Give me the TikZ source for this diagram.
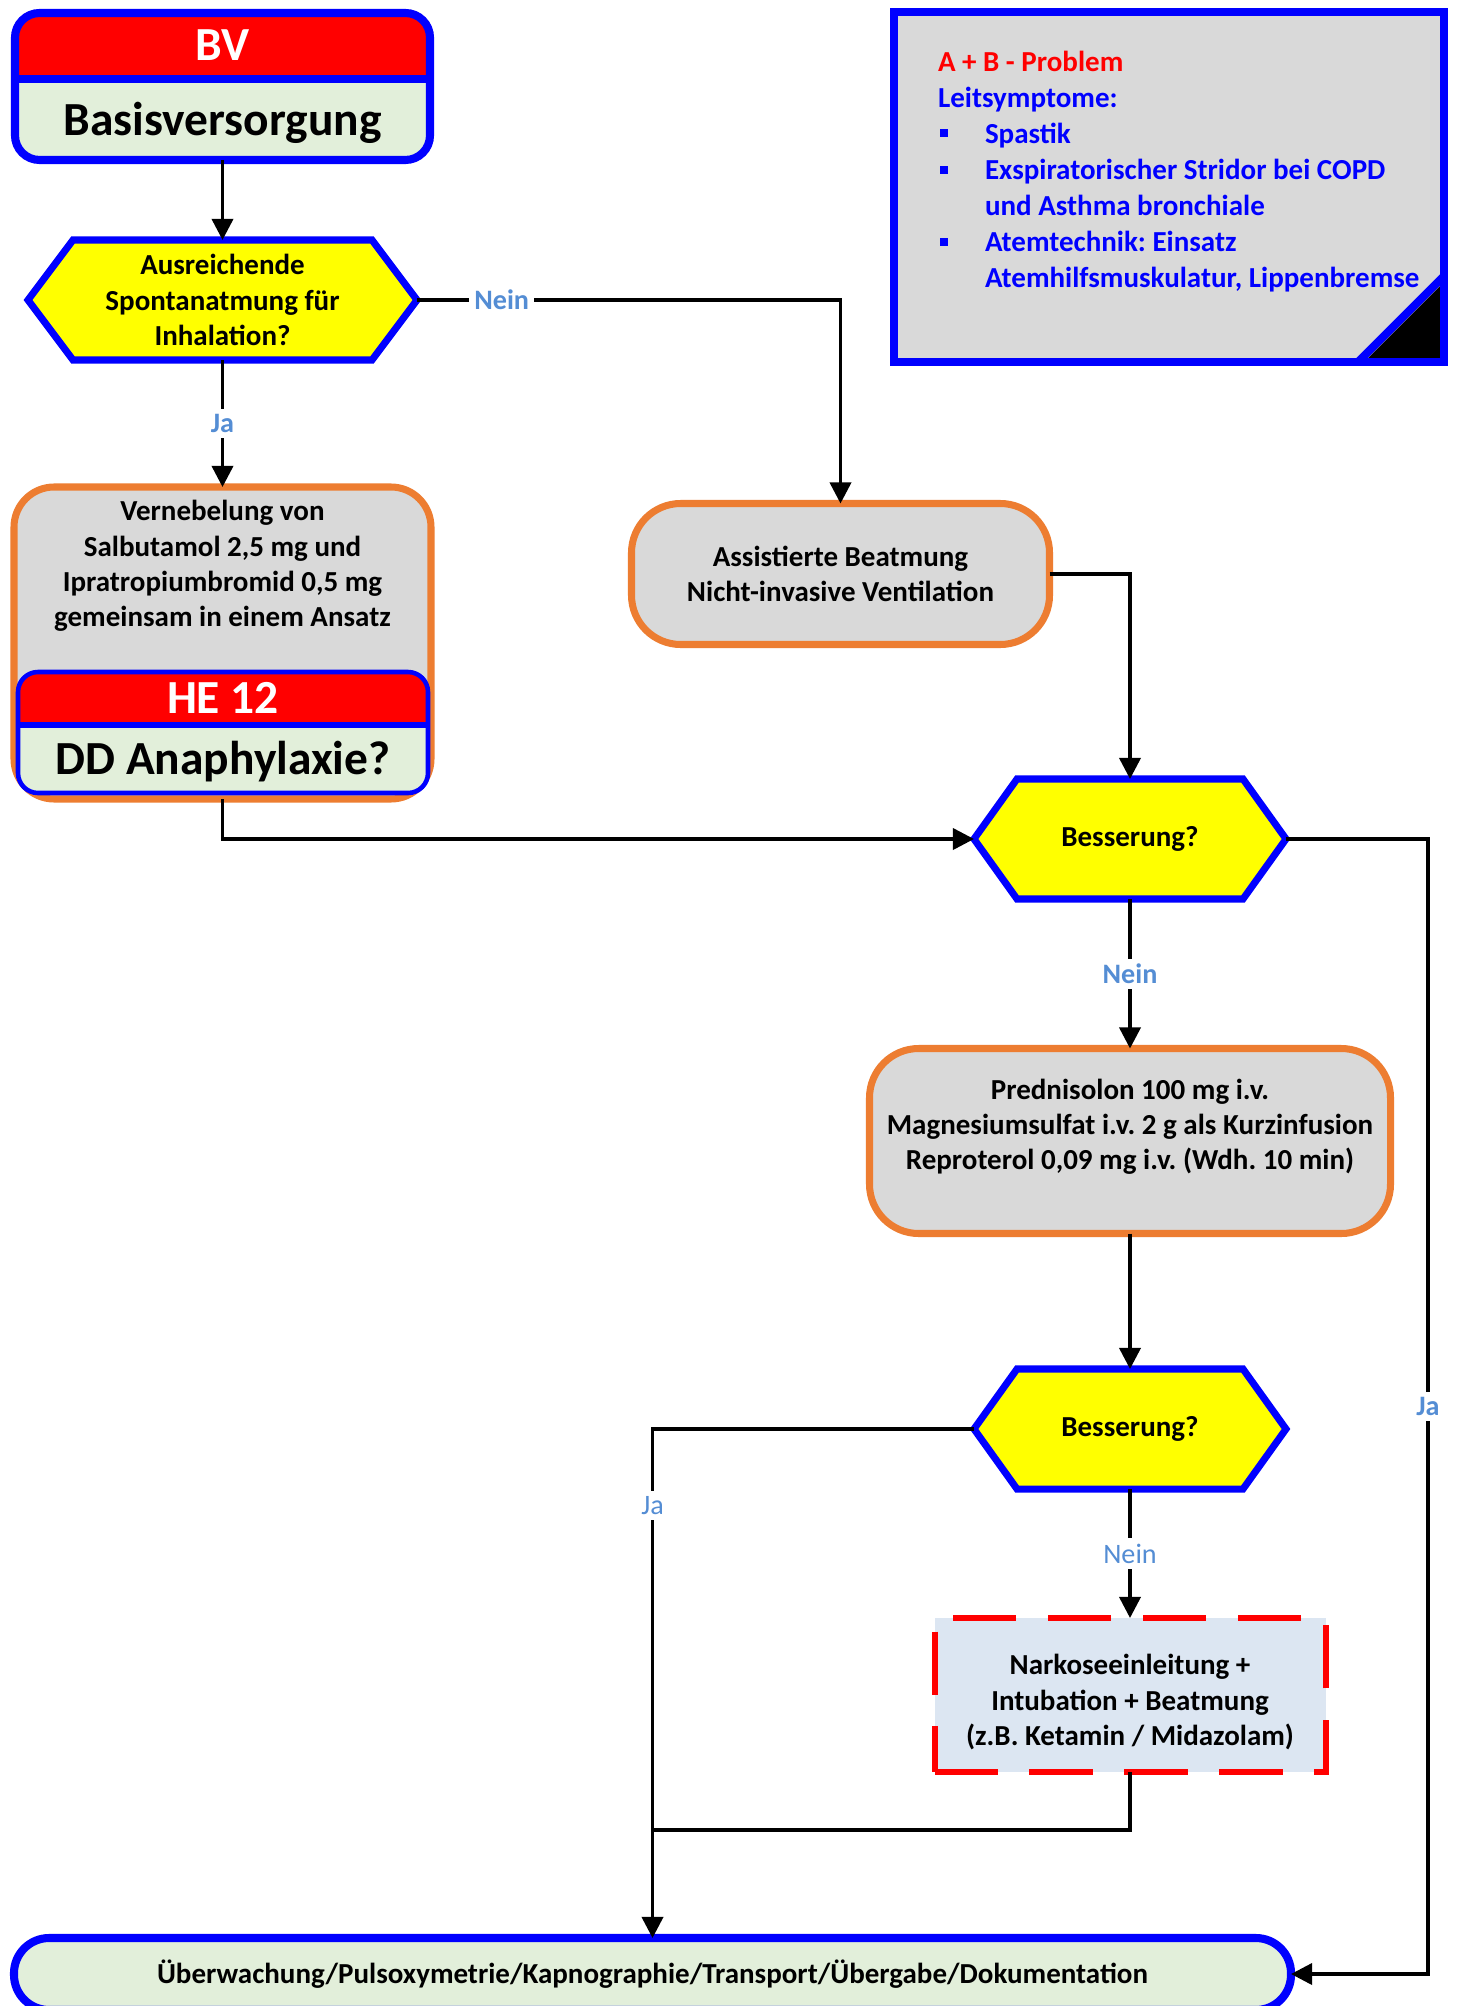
\documentclass[tikz,border=0pt]{standalone}
\usepackage{fontspec}
\setmainfont{Carlito}
\usetikzlibrary{arrows.meta,calc,backgrounds}
\frenchspacing

% one pixel of the drawing grid
\newdimen\pxu \pxu=0.01cm

\definecolor{hdrred}{RGB}{255,0,0}
\definecolor{bblue}{RGB}{0,0,255}
\definecolor{palegreen}{RGB}{226,239,218}
\definecolor{boxgray}{RGB}{217,217,217}
\definecolor{orng}{RGB}{237,125,49}
\definecolor{yel}{RGB}{255,255,0}
\definecolor{labblue}{RGB}{84,141,212}
\definecolor{paleblue}{RGB}{220,230,242}

\newcommand\fsbig{\fontsize{13.5pt}{16pt}\selectfont\bfseries}
\newcommand\fstxt{\fontsize{8.25pt}{10pt}\selectfont\bfseries}
\newcommand\fslab{\fontsize{8pt}{9.6pt}\selectfont}

% hexagonal decision outline around a (shapeless) node: #1 node, #2 tip inset
\newcommand\hexagonpath[2]{%
  \path[hexdraw] (#1.west) -- ($(#1.north west)+(#2,0)$) -- ($(#1.north east)+(-#2,0)$)
    -- (#1.east) -- ($(#1.south east)+(-#2,0)$) -- ($(#1.south west)+(#2,0)$) -- cycle;}

\tikzset{
  every node/.style={outer sep=0pt},
  conn/.style={line width=1pt, -{Triangle[length=6pt,width=6pt]}},
  joinline/.style={line width=1pt},
  lab/.style={fill=white, text=labblue, font=\fslab\bfseries, inner sep=1.5pt},
  labreg/.style={fill=white, text=labblue, font=\fslab, inner sep=1.5pt},
  hdrbox/.style={draw=bblue, fill=palegreen, inner sep=0pt},
  hexnode/.style={inner sep=0pt, font=\fstxt, align=center},
  hexdraw/.style={draw=bblue, fill=yel, line width=2pt, line join=miter},
  orbox/.style={draw=orng, fill=boxgray, line width=2pt, inner sep=0pt},
  dashbox/.style={draw=hdrred, fill=paleblue, line width=1.7pt, dash pattern=on 18pt off 9pt, inner sep=0pt},
  legbox/.style={draw=bblue, fill=boxgray, line width=2.3pt},
  legtxt/.style={anchor=west, inner sep=0pt, font=\fstxt, text=bblue, text height=0.75em, text depth=0.25em},
  bulletsq/.style={fill=bblue, minimum size=8\pxu, inner sep=0pt},
  redhead/.style={path picture={\fill[hdrred, sharp corners] (path picture bounding box.north west)
      rectangle ([yshift=-#1]path picture bounding box.north east);}},
}

\begin{document}
\begin{tikzpicture}[x=0.01cm, y=-0.01cm]
\path[use as bounding box] (0,0) rectangle (1456,2006);
\begin{scope}[on background layer]
  \fill[white] (0,0) rectangle (1456,2006);
\end{scope}

% ---- Basisversorgung header box
\node[hdrbox, line width=2.3pt, rounded corners=7pt, minimum width=415\pxu, minimum height=147\pxu,
      redhead=66\pxu] (bv) at (222.5,86.5) {};
\draw[bblue, line width=2.3pt] ([yshift=-66\pxu]bv.north west) -- ([yshift=-66\pxu]bv.north east);
\node[font=\fsbig, text=white] (bvtitle) at (222.5,45) {BV};
\node[font=\fsbig] (bvname) at (222.5,123) {Basisversorgung};

% ---- first decision
\node[hexnode, minimum width=389\pxu, minimum height=120\pxu] (q1) at (222.5,300)
  {Ausreichende\\Spontanatmung für\\Inhalation?};
\begin{scope}[on background layer]\hexagonpath{q1}{45}\end{scope}

% ---- nebulisation box with HE 12 reference
\node[orbox, rounded corners=11.4pt, minimum width=417\pxu, minimum height=312\pxu] (vb) at (222.5,643) {};
\node[font=\fstxt, align=center] (vbtext) at (222.5,566)
  {Vernebelung von\\Salbutamol 2,5 mg und\\Ipratropiumbromid 0,5 mg\\gemeinsam in einem Ansatz};
\node[hdrbox, line width=1.3pt, rounded corners=5.7pt, minimum width=410\pxu, minimum height=121\pxu,
      redhead=53\pxu] (he) at (223,732.5) {};
\draw[bblue, line width=1.5pt] ([yshift=-53\pxu]he.north west) -- ([yshift=-53\pxu]he.north east);
\node[font=\fsbig, text=white] (hetitle) at (223,698) {HE 12};
\node[font=\fsbig] (hename) at (223,762) {DD Anaphylaxie?};

% ---- assisted ventilation
\node[orbox, rounded corners=14pt, minimum width=418\pxu, minimum height=141\pxu, font=\fstxt, align=center]
  (ab) at (840.5,574) {Assistierte Beatmung\\Nicht-invasive Ventilation};

% ---- first improvement check
\node[hexnode, minimum width=312\pxu, minimum height=120\pxu] (b1) at (1130,839) {Besserung?};
\begin{scope}[on background layer]\hexagonpath{b1}{43}\end{scope}

% ---- drug box
\node[orbox, rounded corners=14pt, minimum width=521\pxu, minimum height=185\pxu] (pr) at (1130,1141) {};
\node[font=\fstxt, align=center] (prtext) at (1130,1127)
  {Prednisolon 100 mg i.v.\\Magnesiumsulfat i.v. 2 g als Kurzinfusion\\Reproterol 0,09 mg i.v. (Wdh. 10 min)};

% ---- second improvement check
\node[hexnode, minimum width=312\pxu, minimum height=120\pxu] (b2) at (1130,1429) {Besserung?};
\begin{scope}[on background layer]\hexagonpath{b2}{43}\end{scope}

% ---- anaesthesia / intubation
\node[dashbox, minimum width=391\pxu, minimum height=154\pxu] (nk) at (1130,1695) {};
\node[font=\fstxt, align=center] (nktext) at (1130,1702)
  {Narkoseeinleitung +\\Intubation + Beatmung\\(z.B. Ketamin / Midazolam)};

% ---- final box
\node[hdrbox, line width=2.3pt, rounded corners=10pt, minimum width=1277\pxu, minimum height=72\pxu, font=\fstxt]
  (ov) at (652.5,1974) {Überwachung/Pulsoxymetrie/Kapnographie/Transport/Übergabe/Dokumentation};

% ---- key symptoms note
\node[legbox, minimum width=550\pxu, minimum height=350\pxu] (lg) at (1169,187) {};
\fill[black] ($(lg.south east)+(-80,0)$) -- ($(lg.south east)+(0,-80)$) -- (lg.south east) -- cycle;
\draw[bblue, line width=2.3pt, line join=miter]
  ($(lg.south east)+(-92,0)$) -- (lg.south east) -- ($(lg.south east)+(0,-92)$);
\draw[bblue, line width=2.3pt] ($(lg.south east)+(-86,0)$) -- ($(lg.south east)+(0,-86)$);
\node[legtxt, text=hdrred] (lgA) at (938,63) {A + B - Problem};
\node[legtxt] (lgB) at (938,99) {Leitsymptome:};
\node[bulletsq] (bu1) at (944,133) {};
\node[bulletsq] (bu2) at (944,170) {};
\node[bulletsq] (bu3) at (944,242) {};
\node[legtxt] (lgC) at (985,135) {Spastik};
\node[legtxt] (lgD) at (985,171) {Exspiratorischer Stridor bei COPD};
\node[legtxt] (lgE) at (985,207) {und Asthma bronchiale};
\node[legtxt] (lgF) at (985,243) {Atemtechnik: Einsatz};
\node[legtxt] (lgG) at (985,279) {Atemhilfsmuskulatur, Lippenbremse};

% ---- connectors
\coordinate (rx) at (1428,839);
\coordinate (jn) at (652.5,1830);
\draw[conn] (bv.south) -- (q1.north);
\draw[conn] (q1.south) -- node[lab] (ja1) {Ja} (vb.north);
\draw[conn] (q1.east) -- node[lab, pos=0.2] (nein1) {Nein} (q1.east -| ab.north) -- (ab.north);
\draw[conn] (ab.east) -| (b1.north);
\draw[conn] (vb.south) |- (b1.west);
\draw[conn] (b1.south) -- node[lab] (nein2) {Nein} (pr.north);
\draw[conn] (b1.east) -- (rx) -- node[lab] (ja2) {Ja} (rx |- ov.east) -- (ov.east);
\draw[conn] (pr.south) -- (b2.north);
\draw[conn] (b2.west) -| node[labreg, pos=0.575] (ja3) {Ja} (ov.north);
\draw[conn] (b2.south) -- node[labreg] (nein3) {Nein} (nk.north);
\draw[joinline] (nk.south) |- (jn);
\end{tikzpicture}
\end{document}
